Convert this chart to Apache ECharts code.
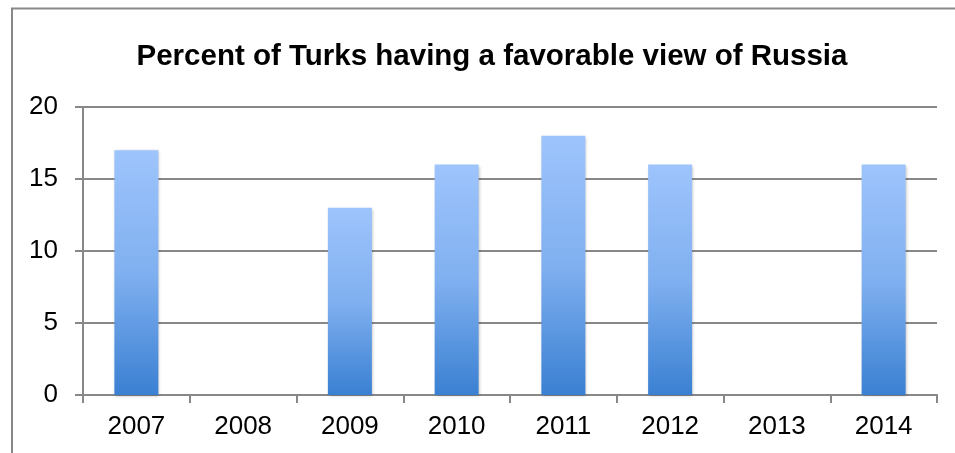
<!DOCTYPE html>
<html>
<head>
<meta charset="utf-8">
<script src="https://cdn.jsdelivr.net/npm/echarts@6/dist/echarts.min.js"></script>
<style>html,body{margin:0;padding:0;background:#fff;}#c{width:955px;height:453px;}</style>
</head>
<body>
<div id="c"></div>
<script>
const titleText = 'Percent of Turks having a favorable view of Russia';
const categories = ['2007','2008','2009','2010','2011','2012','2013','2014'];
const values = [17, null, 13, 16, 18, 16, null, 16];
const yTicks = [0, 5, 10, 15, 20];

const chart = echarts.init(document.getElementById('c'));
chart.setOption({
  animation: false,
  backgroundColor: '#fff',
  graphic: [{
    type: 'rect', z: -1,
    shape: { x: 12, y: 8.5, width: 1200, height: 1000 },
    style: { fill: 'none', stroke: '#888', lineWidth: 2 }
  }],
  title: {
    text: titleText,
    left: 487, top: 37, textAlign: 'center',
    textStyle: { fontFamily: 'Liberation Sans, Arial, sans-serif', fontWeight: 'bold', fontSize: 29.5, color: '#000' }
  },
  grid: { left: 83, right: 18, top: 107, bottom: 58 },
  xAxis: {
    type: 'category', data: categories,
    axisLine: { lineStyle: { color: '#888', width: 2 } },
    axisTick: { show: true, length: 8, lineStyle: { color: '#888', width: 2 } },
    axisLabel: { fontFamily: 'Liberation Sans, Arial, sans-serif', fontSize: 26, color: '#000', margin: 19 }
  },
  yAxis: {
    type: 'value', min: yTicks[0], max: yTicks[yTicks.length-1], interval: 5,
    axisLine: { show: true, lineStyle: { color: '#888', width: 2 } },
    axisTick: { show: true, length: 8, lineStyle: { color: '#888', width: 2 } },
    splitLine: { lineStyle: { color: '#888', width: 2 } },
    axisLabel: { fontFamily: 'Liberation Sans, Arial, sans-serif', fontSize: 26, color: '#000', margin: 25 }
  },
  series: [{
    type: 'bar', data: values, barWidth: 44,
    itemStyle: {
      color: new echarts.graphic.LinearGradient(0, 0, 0, 1, [
        { offset: 0, color: '#9ec4fc' },
        { offset: 0.5, color: '#80b0f0' },
        { offset: 1, color: '#3a80d2' }
      ]),
      shadowColor: 'rgba(0,0,0,0.25)', shadowBlur: 3, shadowOffsetX: 1, shadowOffsetY: 1
    }
  }]
});
</script>
</body>
</html>
